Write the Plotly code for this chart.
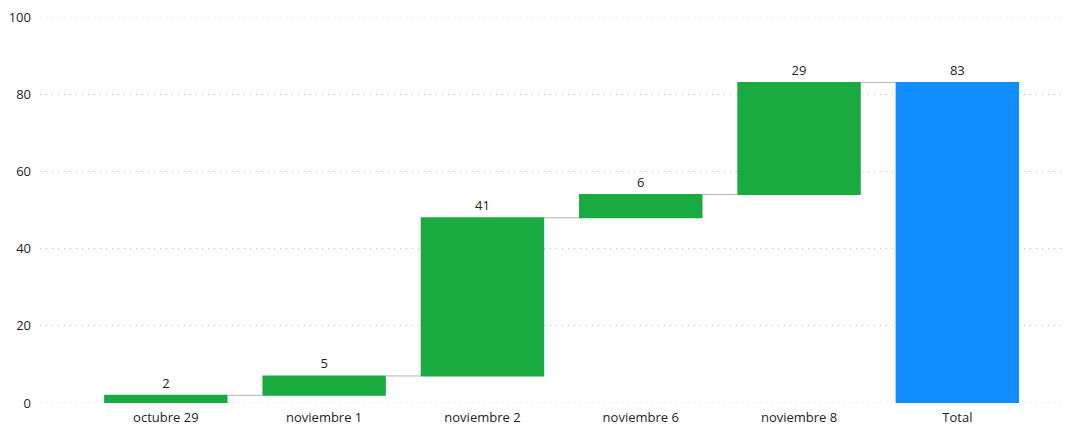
import plotly.graph_objects as go

categories = ["octubre 29", "noviembre 1", "noviembre 2", "noviembre 6", "noviembre 8", "Total"]
increments = [2, 5, 41, 6, 29]
total = 83
measures = ["relative"] * len(increments) + ["total"]
values = increments + [total]
labels = [str(v) for v in values]
y_ticks = [0, 20, 40, 60, 80, 100]

GRID_COLOR = "#BDBDBD"
GRID_DASH = "1px,5px"

fig = go.Figure(go.Waterfall(
    x=categories,
    y=values,
    measure=measures,
    text=labels,
    textposition="outside",
    textfont=dict(size=13, color="#252423"),
    increasing=dict(marker=dict(color="#1AAB40")),
    decreasing=dict(marker=dict(color="#D64550")),
    totals=dict(marker=dict(color="#118DFF")),
    connector=dict(line=dict(color="#B3B3B3", width=1)),
    width=0.78,
    cliponaxis=False,
))

# gridlines at the range edges are not drawn by the axis itself
for yv in (y_ticks[0], y_ticks[-1]):
    fig.add_shape(
        type="line", xref="paper", yref="y", x0=0, x1=1, y0=yv, y1=yv,
        line=dict(color=GRID_COLOR, width=1, dash=GRID_DASH), layer="below",
    )

fig.update_layout(
    width=1068,
    height=425,
    margin=dict(l=40, r=3, t=17, b=22),
    paper_bgcolor="white",
    plot_bgcolor="white",
    font=dict(family="Open Sans, Noto Sans, sans-serif", size=13, color="#252423"),
    showlegend=False,
    xaxis=dict(
        range=[-0.795, 5.68],
        showgrid=False,
        zeroline=False,
        showline=False,
        ticks="",
        automargin=False,
        ticklabelstandoff=5,
        tickfont=dict(size=13, color="#252423"),
    ),
    yaxis=dict(
        range=[0, 100],
        tickvals=y_ticks,
        showgrid=True,
        gridcolor=GRID_COLOR,
        griddash=GRID_DASH,
        gridwidth=1,
        zeroline=False,
        showline=False,
        ticks="",
        automargin=False,
        ticklabelstandoff=8,
        tickfont=dict(size=13, color="#252423"),
    ),
)

fig.write_html("out.html")
